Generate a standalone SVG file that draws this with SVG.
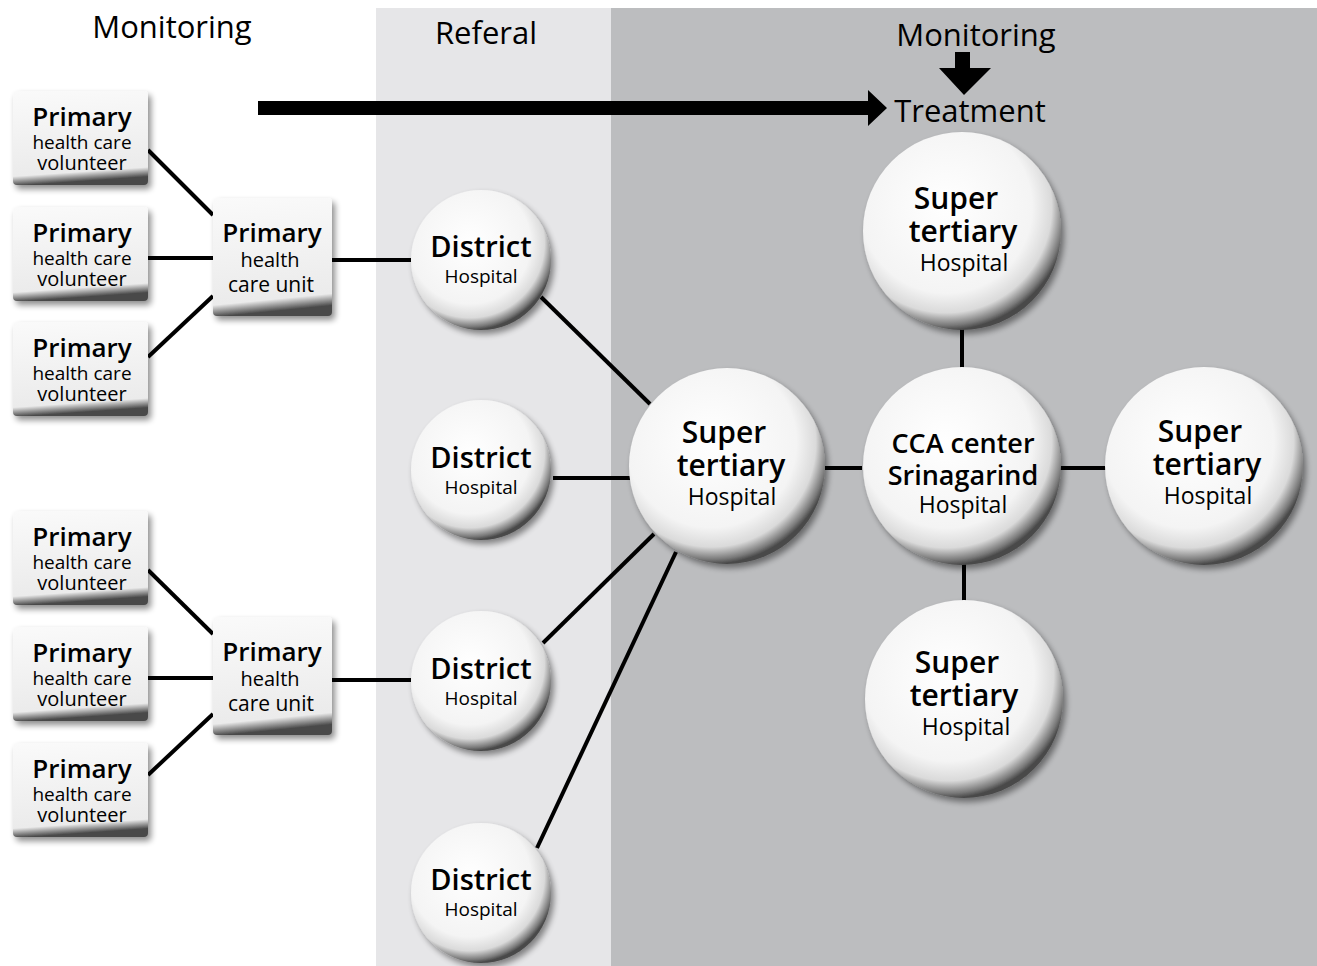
<svg xmlns="http://www.w3.org/2000/svg" width="1317" height="966" viewBox="0 0 1317 966">
<style>
text{font-family:"Open Sans","Noto Sans","Liberation Sans",sans-serif;fill:#000;text-anchor:middle}
.hd{font-size:31px}
.b{font-weight:600}
.p{font-size:26px;font-weight:600}
.hc{font-size:19px}
.vo{font-size:20px}
.di{font-size:29px;font-weight:600}
.dh{font-size:19px}
.su{font-size:30px;font-weight:600}
.sh{font-size:23px}
.box{fill:url(#gBox);filter:url(#sh)}
.circ{fill:url(#gCirc);filter:url(#sh)}
.ln{stroke:#000;stroke-width:4;fill:none}
</style>
<defs>
<radialGradient id="gCirc" cx="0.42" cy="0.38" r="0.62">
<stop offset="0" stop-color="#ffffff"/>
<stop offset="0.7" stop-color="#f4f4f4"/>
<stop offset="0.86" stop-color="#dadada"/>
<stop offset="0.96" stop-color="#7a7a7a"/>
<stop offset="1" stop-color="#4a4a4a"/>
</radialGradient>
<linearGradient id="gBox" x1="0" y1="0" x2="0.1" y2="1">
<stop offset="0" stop-color="#fafafa"/>
<stop offset="0.9" stop-color="#ebebeb"/>
<stop offset="0.96" stop-color="#8a8a8a"/>
<stop offset="1" stop-color="#4a4a4a"/>
</linearGradient>
<filter id="sh" x="-20%" y="-20%" width="140%" height="140%">
<feGaussianBlur in="SourceAlpha" stdDeviation="3"/>
<feOffset dx="3" dy="4" result="o"/>
<feComponentTransfer><feFuncA type="linear" slope="0.45"/></feComponentTransfer>
<feMerge><feMergeNode/><feMergeNode in="SourceGraphic"/></feMerge>
</filter>
</defs>
<rect width="1317" height="966" fill="#fff"/>
<rect x="376" y="8" width="235" height="958" fill="#e6e6e8"/>
<rect x="611" y="8" width="706" height="958" fill="#bcbdbf"/>

<g id="headers">
<text class="hd" x="172" y="38">Monitoring</text>
<text class="hd" x="486" y="44">Referal</text>
<text class="hd" x="976" y="46">Monitoring</text>
<text class="hd" x="970" y="122">Treatment</text>
</g>

<g id="connectors">
<path d="M258 101H868V90L887 108L868 126V115H258Z" fill="#000"/>
<path d="M955 52H970V68H991L964 95L939 68H955Z" fill="#000"/>
<line class="ln" x1="148" y1="150" x2="213" y2="215"/>
<line class="ln" x1="148" y1="258" x2="213" y2="258"/>
<line class="ln" x1="148" y1="357" x2="213" y2="296"/>
<line class="ln" x1="148" y1="570" x2="213" y2="634"/>
<line class="ln" x1="148" y1="678" x2="213" y2="678"/>
<line class="ln" x1="148" y1="775" x2="213" y2="714"/>
<line class="ln" x1="332" y1="260" x2="411" y2="260"/>
<line class="ln" x1="332" y1="680" x2="411" y2="680"/>
<line class="ln" x1="541" y1="297" x2="650" y2="404"/>
<line class="ln" x1="553" y1="478" x2="630" y2="478"/>
<line class="ln" x1="543" y1="643" x2="654" y2="534"/>
<line class="ln" x1="537" y1="848" x2="676" y2="552"/>
<line class="ln" x1="825" y1="468" x2="862" y2="468"/>
<line class="ln" x1="962" y1="328" x2="962" y2="368"/>
<line class="ln" x1="1060" y1="468" x2="1106" y2="468"/>
<line class="ln" x1="964" y1="563" x2="964" y2="602"/>
</g>

<g id="vol1"><rect class="box" x="13" y="91" width="135" height="94" rx="4"/><text x="82" y="126" class="p">Primary</text><text x="82" y="149" class="hc">health care</text><text x="82" y="170" class="vo">volunteer</text></g>
<g id="vol2"><rect class="box" x="13" y="207" width="135" height="94" rx="4"/><text x="82" y="242" class="p">Primary</text><text x="82" y="265" class="hc">health care</text><text x="82" y="286" class="vo">volunteer</text></g>
<g id="vol3"><rect class="box" x="13" y="322" width="135" height="94" rx="4"/><text x="82" y="357" class="p">Primary</text><text x="82" y="380" class="hc">health care</text><text x="82" y="401" class="vo">volunteer</text></g>
<g id="vol4"><rect class="box" x="13" y="511" width="135" height="94" rx="4"/><text x="82" y="546" class="p">Primary</text><text x="82" y="569" class="hc">health care</text><text x="82" y="590" class="vo">volunteer</text></g>
<g id="vol5"><rect class="box" x="13" y="627" width="135" height="94" rx="4"/><text x="82" y="662" class="p">Primary</text><text x="82" y="685" class="hc">health care</text><text x="82" y="706" class="vo">volunteer</text></g>
<g id="vol6"><rect class="box" x="13" y="743" width="135" height="94" rx="4"/><text x="82" y="778" class="p">Primary</text><text x="82" y="801" class="hc">health care</text><text x="82" y="822" class="vo">volunteer</text></g>

<g id="unit1"><rect class="box" x="213" y="198" width="119" height="118" rx="4"/><text x="272" y="242" class="p">Primary</text><text x="270" y="267" font-size="20">health</text><text x="271" y="292" font-size="21">care unit</text></g>
<g id="unit2"><rect class="box" x="213" y="617" width="119" height="118" rx="4"/><text x="272" y="661" class="p">Primary</text><text x="270" y="686" font-size="20">health</text><text x="271" y="711" font-size="21">care unit</text></g>

<g id="district1"><circle class="circ" cx="481" cy="260" r="70"/><text x="481" y="257" class="di">District</text><text x="481" y="283" class="dh">Hospital</text></g>
<g id="district2"><circle class="circ" cx="481" cy="470" r="70"/><text x="481" y="468" class="di">District</text><text x="481" y="494" class="dh">Hospital</text></g>
<g id="district3"><circle class="circ" cx="481" cy="681" r="70"/><text x="481" y="679" class="di">District</text><text x="481" y="705" class="dh">Hospital</text></g>
<g id="district4"><circle class="circ" cx="481" cy="893" r="70"/><text x="481" y="890" class="di">District</text><text x="481" y="916" class="dh">Hospital</text></g>

<g id="super_main"><circle class="circ" cx="727" cy="466" r="98"/><text x="724" y="443" class="su">Super</text><text x="731" y="476" class="su">tertiary</text><text x="732" y="505" class="sh">Hospital</text></g>
<g id="cca"><circle class="circ" cx="962" cy="466" r="99"/><text x="963" y="453" font-size="27" class="b">CCA center</text><text x="963" y="485" font-size="27" class="b">Srinagarind</text><text x="963" y="513" class="sh">Hospital</text></g>
<g id="super_top"><circle class="circ" cx="962" cy="231" r="99"/><text x="956" y="209" class="su">Super</text><text x="963" y="242" class="su">tertiary</text><text x="964" y="271" class="sh">Hospital</text></g>
<g id="super_right"><circle class="circ" cx="1204" cy="466" r="99"/><text x="1200" y="442" class="su">Super</text><text x="1207" y="475" class="su">tertiary</text><text x="1208" y="504" class="sh">Hospital</text></g>
<g id="super_bottom"><circle class="circ" cx="964" cy="699" r="99"/><text x="957" y="673" class="su">Super</text><text x="964" y="706" class="su">tertiary</text><text x="966" y="735" class="sh">Hospital</text></g>
</svg>
